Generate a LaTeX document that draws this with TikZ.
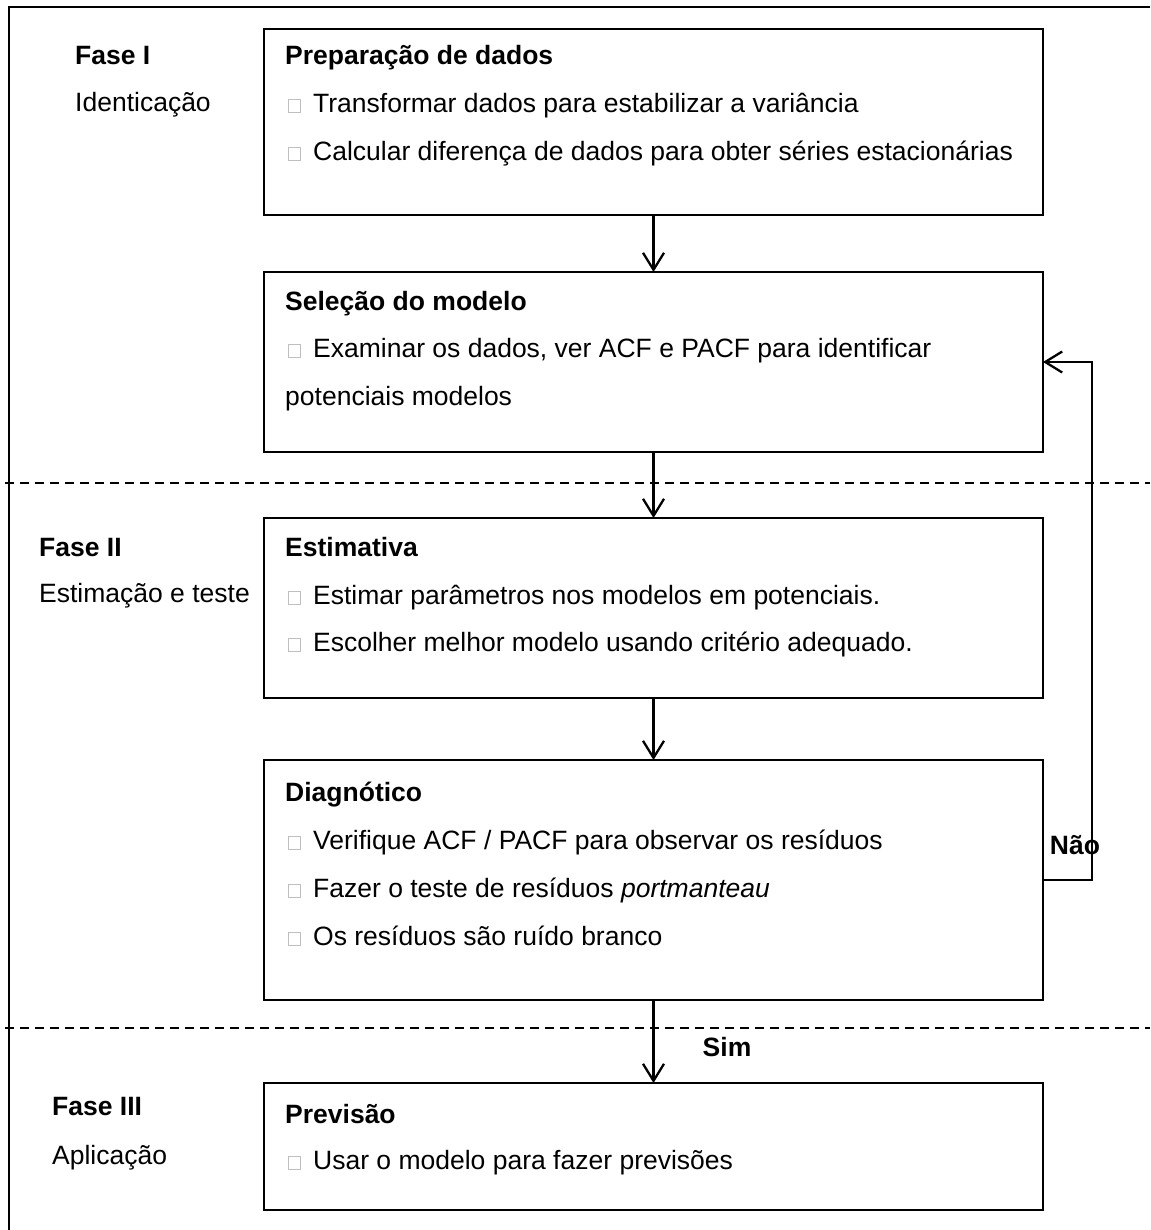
\documentclass[tikz,border=0pt]{standalone}
\usepackage{fontspec}
\setmainfont{Liberation Sans}
\usetikzlibrary{arrows.meta}
% small hollow square used as the item marker
\newcommand{\chk}{\raisebox{0.5pt}{\color{gray!50}\setlength{\fboxrule}{1pt}\setlength{\fboxsep}{0pt}\fbox{\rule{0pt}{12pt}\hspace{11pt}}}\hspace{12pt}}
\begin{document}
\begin{tikzpicture}[x=1pt,y=-1pt,
  box/.style={draw, line width=2.3pt, rectangle, inner sep=0pt, outer sep=0pt,
              anchor=north west, minimum width=779pt},
  txt/.style={anchor=base west, inner sep=0pt, font=\fontsize{26.5}{30}\selectfont},
  head/.style={txt, font=\fontsize{26.5}{30}\selectfont\bfseries},
  lbl/.style={inner sep=0pt, font=\fontsize{26.5}{30}\selectfont\bfseries},
  arr/.style={line width=2.3pt, -{Straight Barb[length=17pt,width=21pt,line width=2.3pt]}},
  phase/.style={line width=1.6pt, dash pattern=on 9pt off 6pt}]
\useasboundingbox (0,0) rectangle (1150,1230);

% outer frame (open on the right and bottom)
\draw[line width=2.3pt] (9,1230) -- (9,7) -- (1150,7);

% phase separators
\draw[phase] (5,483) -- (1150,483);
\draw[phase] (5,1028) -- (1150,1028);

% phase labels
\node[head] (f1) at (75,65) {Fase I};
\node[txt]  (f1s) at (75,112) {Identicação};
\node[head] (f2) at (39,556) {Fase II};
\node[txt]  (f2s) at (39,602) {Estimação e teste};
\node[head] (f3) at (52,1115) {Fase III};
\node[txt]  (f3s) at (52,1164) {Aplicação};

% step boxes
\node[box, minimum height=186pt] (b1) at (264,29) {};
\node[box, minimum height=180pt] (b2) at (264,272) {};
\node[box, minimum height=180pt] (b3) at (264,518) {};
\node[box, minimum height=240pt] (b4) at (264,760) {};
\node[box, minimum height=127pt] (b5) at (264,1083) {};

% box contents
\node[head] (t1)  at (285,65)  {Preparação de dados};
\node[txt]  (t1a) at (288,113) {\chk Transformar dados para estabilizar a variância};
\node[txt]  (t1b) at (288,161) {\chk Calcular diferença de dados para obter séries estacionárias};

\node[head] (t2)  at (285,310) {Seleção do modelo};
\node[txt]  (t2a) at (288,357) {\chk Examinar os dados, ver ACF e PACF para identificar};
\node[txt]  (t2b) at (285,405) {potenciais modelos};

\node[head] (t3)  at (285,556) {Estimativa};
\node[txt]  (t3a) at (288,604) {\chk Estimar parâmetros nos modelos em potenciais.};
\node[txt]  (t3b) at (288,651) {\chk Escolher melhor modelo usando critério adequado.};

\node[head] (t4)  at (285,801) {Diagnótico};
\node[txt]  (t4a) at (288,849) {\chk Verifique ACF / PACF para observar os resíduos};
\node[txt]  (t4b) at (288,897) {\chk Fazer o teste de resíduos \textit{portmanteau}};
\node[txt]  (t4c) at (288,945) {\chk Os resíduos são ruído branco};

\node[head] (t5)  at (285,1123) {Previsão};
\node[txt]  (t5a) at (288,1169) {\chk Usar o modelo para fazer previsões};

% flow
\draw[arr] (b1.south) -- (b2.north);
\draw[arr] (b2.south) -- (b3.north);
\draw[arr] (b3.south) -- (b4.north);
\draw[arr] (b4.south) -- (b5.north);

% loop back when the residuals fail the checks
\node[lbl] (nao) at (1075,845) {Não};
\draw[arr] (b4.east) -- ++(49,0) |- (b2.east);
\node[lbl] (sim) at (727,1047) {Sim};
\end{tikzpicture}
\end{document}
